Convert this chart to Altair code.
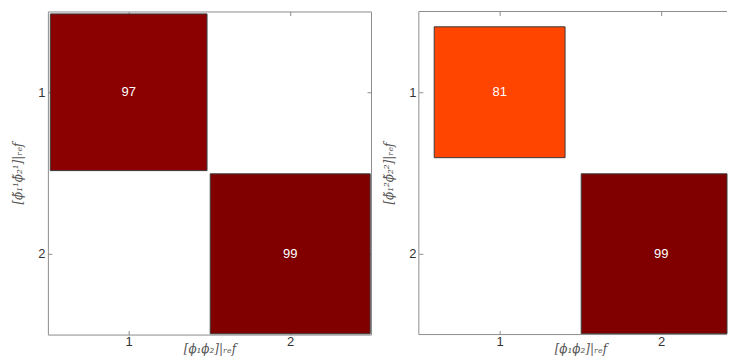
import altair as alt
import pandas as pd

# Data
ticks = [1, 2]
panel1_cols = [1, 2]
panel1_rows = [1, 2]
panel1_values = [97, 99]
panel2_cols = [1, 2]
panel2_rows = [1, 2]
panel2_values = [81, 99]

x_title = "[ϕ₁ϕ₂]|ᵣₑf"
y_titles = ["[ϕ̃₁¹ϕ̃₂¹]|ᵣₑf", "[ϕ̃₁²ϕ̃₂²]|ᵣₑf"]

color_domain = [81, 97, 99]
color_range = ["#ff4500", "#8b0000", "#800000"]

CELL = 162
SPAN = 2 * CELL
FRAME = "#8c8c8c"


def panel(cols, rows, values, ytitle, view_w, full_frame):
    df = pd.DataFrame({"col": cols, "row": rows, "value": values})
    base = alt.Chart(df).transform_calculate(
        x0="datum.col - datum.value / 200",
        x1="datum.col + datum.value / 200",
        y0="datum.row - datum.value / 200",
        y1="datum.row + datum.value / 200",
    )
    x_hi = 0.5 + view_w / CELL
    xs = alt.Scale(domain=[0.5, x_hi], clamp=True, nice=False, zero=False)
    ys = alt.Scale(domain=[0.5, 2.5], reverse=True, nice=False, zero=False)
    sq = base.mark_rect(stroke="#3a3a3a", strokeWidth=1).encode(
        x=alt.X("x0:Q", scale=xs, axis=alt.Axis(title=x_title, values=ticks, format="d",
                                                orient="bottom", titleX=SPAN / 2)),
        x2="x1:Q",
        y=alt.Y("y0:Q", scale=ys, axis=alt.Axis(title=ytitle, values=ticks, format="d", orient="left")),
        y2="y1:Q",
        color=alt.Color("value:Q", scale=alt.Scale(domain=color_domain, range=color_range), legend=None),
    )
    if full_frame:
        y_right = alt.Y("row:Q", scale=ys, axis=alt.Axis(title=None, labels=False, values=ticks, orient="right"))
    else:
        y_right = alt.Y("row:Q", scale=ys, axis=None)
    txt = base.mark_text(color="white", fontSize=13, font="Liberation Sans").encode(
        x=alt.X("col:Q", scale=xs, axis=alt.Axis(title=None, labels=False, values=ticks, orient="top")),
        y=y_right,
        text="value:Q",
    )
    layers = [sq, txt]
    if not full_frame:
        fr = alt.Chart(pd.DataFrame({"k": [0]}))
        layers += [
            fr.mark_rule(color=FRAME, strokeWidth=1).encode(x=alt.value(0), y=alt.value(0), y2=alt.value(SPAN)),
            fr.mark_rule(color=FRAME, strokeWidth=1).encode(x=alt.value(0), x2=alt.value(view_w), y=alt.value(0)),
            fr.mark_rule(color=FRAME, strokeWidth=1).encode(x=alt.value(0), x2=alt.value(view_w), y=alt.value(SPAN)),
        ]
    return alt.layer(*layers).resolve_axis(x="independent", y="independent").properties(
        width=view_w, height=SPAN,
        view=alt.ViewBackground(stroke=FRAME if full_frame else "transparent", strokeWidth=1),
    )


chart = alt.hconcat(
    panel(panel1_cols, panel1_rows, panel1_values, y_titles[0], SPAN, True),
    panel(panel2_cols, panel2_rows, panel2_values, y_titles[1], 309, False),
    spacing=10,
).configure(
    padding={"left": 3, "top": 2, "right": 0, "bottom": 0}
).configure_axis(
    domain=False, grid=False, ticks=True, tickSize=4, tickColor=FRAME, offset=-4,
    labelFont="Liberation Sans", labelFontSize=13, labelColor="#333333", labelPadding=1,
    titleFont="DejaVu Serif", titleFontSize=12, titleFontStyle="italic", titleFontWeight="normal",
    titleColor="#555555",
).configure_axisY(titlePadding=13, labelAngle=0, labelPadding=3).configure_axisX(titlePadding=-5)

chart.save("out.html", embed_options={"renderer": "svg", "actions": False})
